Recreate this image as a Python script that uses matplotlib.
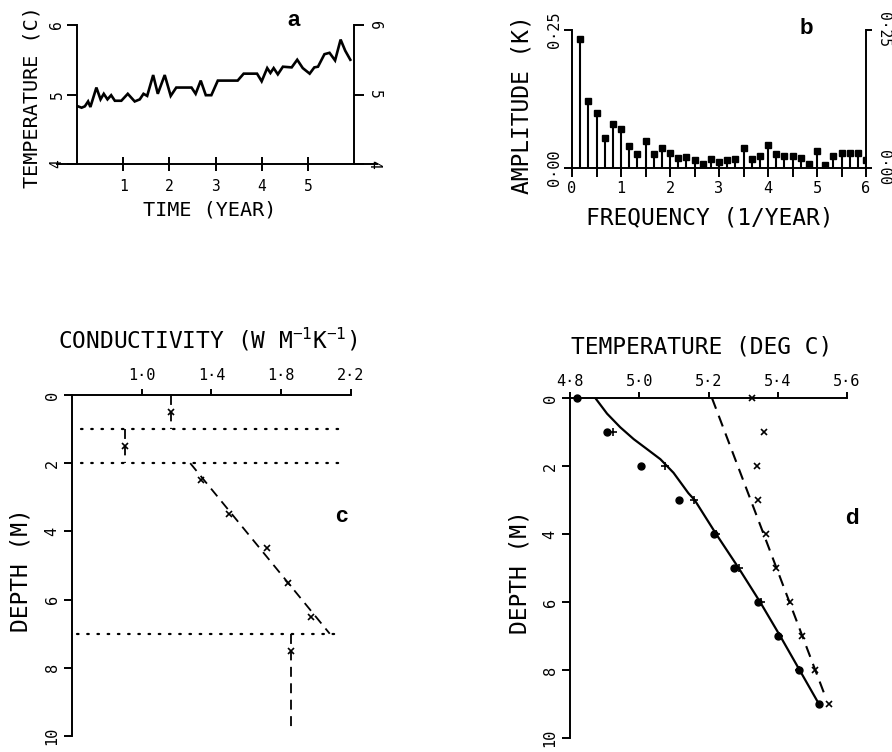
import matplotlib
matplotlib.use("Agg")
import matplotlib.pyplot as plt
from matplotlib.lines import Line2D

W, H = 892, 752
plt.rcParams['font.family'] = ['DejaVu Sans Mono']
plt.rcParams['mathtext.fontset'] = 'custom'
plt.rcParams['mathtext.rm'] = 'DejaVu Sans Mono'
plt.rcParams['mathtext.it'] = 'DejaVu Sans Mono'

# ---------------- data ----------------
# (a) air temperature record
time_years = [0.02, 0.10, 0.17, 0.24, 0.29, 0.42, 0.51, 0.58, 0.66, 0.74, 0.82,
              0.96, 1.10, 1.25, 1.36, 1.44, 1.52, 1.65, 1.75, 1.90, 2.03, 2.15,
              2.48, 2.57, 2.68, 2.79, 2.91, 3.05, 3.48, 3.61, 3.90, 4.00, 4.12,
              4.19, 4.26, 4.35, 4.46, 4.65, 4.77, 4.89, 5.04, 5.14, 5.22, 5.36,
              5.47, 5.59, 5.71, 5.81, 5.92]
air_temp = [4.83, 4.81, 4.83, 4.90, 4.82, 5.10, 4.93, 5.01, 4.93, 4.99, 4.91,
            4.91, 5.01, 4.90, 4.93, 5.01, 4.98, 5.28, 5.01, 5.28, 4.98, 5.10,
            5.10, 5.01, 5.20, 4.99, 4.99, 5.20, 5.20, 5.30, 5.30, 5.19, 5.38,
            5.31, 5.38, 5.29, 5.40, 5.39, 5.50, 5.38, 5.30, 5.39, 5.40, 5.58,
            5.60, 5.49, 5.79, 5.63, 5.50]
temp_ticks = [4, 5, 6]
year_ticks = [1, 2, 3, 4, 5]

# (b) amplitude spectrum, harmonics k/6 per year
harmonic = list(range(1, 37))
amplitude = [0.234, 0.122, 0.100, 0.054, 0.079, 0.070, 0.040, 0.025, 0.049,
             0.025, 0.037, 0.028, 0.019, 0.020, 0.014, 0.007, 0.016, 0.010,
             0.014, 0.016, 0.036, 0.016, 0.022, 0.042, 0.025, 0.021, 0.021,
             0.018, 0.007, 0.031, 0.005, 0.022, 0.028, 0.028, 0.027, 0.014]
freq_ticks = [0, 1, 2, 3, 4, 5, 6]
amp_ticks = [0.0, 0.25]

# (c) conductivity layers
layer_top = [0, 1, 2, 7]
layer_bottom = [1, 2, 7, 9.8]
cond_at_top = [1.167, 0.904, 1.278, 1.858]
cond_at_bottom = [1.167, 0.904, 2.078, 1.858]
sample_depth = [0.5, 1.5, 2.5, 3.5, 4.5, 5.5, 6.5, 7.5]
sample_cond = [1.167, 0.904, 1.338, 1.501, 1.721, 1.836, 1.971, 1.858]
boundary_depth = [1, 2, 7]
boundary_from = [0.65, 0.65, 0.63]
boundary_to = [2.15, 2.15, 2.13]
cond_ticks = [1.0, 1.4, 1.8, 2.2]
depth_ticks = [0, 2, 4, 6, 8, 10]

# (d) temperature profiles
obs_depth = [0, 1, 2, 3, 4, 5, 6, 7, 8, 9]
obs_temp = [4.820, 4.907, 5.005, 5.115, 5.217, 5.275, 5.344, 5.402, 5.460, 5.519]
calc_depth = [1, 2, 3, 4, 5, 6, 7, 8]
calc_temp = [4.924, 5.075, 5.159, 5.222, 5.287, 5.351, 5.404, 5.460]
model_depth = [0, 0.46, 0.86, 1.21, 1.5, 1.8, 2.2, 2.8, 3, 4, 5, 6, 7, 8, 9]
model_temp = [4.873, 4.907, 4.945, 4.984, 5.022, 5.061, 5.099, 5.142, 5.160,
              5.222, 5.287, 5.349, 5.407, 5.463, 5.519]
trend_depth = [0, 8.85]
trend_temp = [5.21, 5.54]
cross_depth = [0, 1, 2, 3, 4, 5, 6, 7, 8, 9]
cross_temp = [5.325, 5.361, 5.340, 5.344, 5.367, 5.396, 5.436, 5.470, 5.508, 5.549]
soil_temp_ticks = [4.8, 5.0, 5.2, 5.4, 5.6]

# ---------------- drawing ----------------
LW = 1.4
TICK_FS = 11
LABEL_FS = 16.5
DASH = (0, (5.5, 3.6))

fig = plt.figure(figsize=(W / 100, H / 100), dpi=100)


def px_axes(left, top, right, bottom):
    return fig.add_axes([left / W, 1 - bottom / H, (right - left) / W, (bottom - top) / H])


def fig_text(x, y, s, **kw):
    fig.text(x / W, 1 - y / H, s, ha='center', va='center', **kw)


def dotfmt(v, fmt):
    return (fmt % v).replace('.', '\u00b7')


def style_spines(ax, visible):
    for side, sp in ax.spines.items():
        sp.set_visible(side in visible)
        sp.set_linewidth(LW)


def rotate_y_labels(ax, right_size=None):
    for t in ax.yaxis.get_major_ticks():
        t.label1.set_rotation(90)
        t.label1.set_va('center')
        t.label2.set_rotation(270)
        t.label2.set_va('center')
        if right_size:
            t.label2.set_fontsize(right_size)


# ---- (a) ----
ax = px_axes(77, 25, 354, 164)
ax.plot(time_years, air_temp, color='black', lw=1.9, solid_joinstyle='miter')
ax.set_xlim(0, 6)
ax.set_ylim(4, 6)
style_spines(ax, ['left', 'right'])
ax.add_line(Line2D([-0.072, 1.083], [0, 0], transform=ax.transAxes,
                   color='black', lw=LW, clip_on=False))
ax.set_xticks(year_ticks)
ax.set_xticklabels([str(v) for v in year_ticks])
ax.tick_params(axis='x', direction='inout', length=10, width=LW, pad=6,
               labelsize=10.5)
ax.set_yticks(temp_ticks)
ax.set_yticklabels([str(v) for v in temp_ticks])
ax.tick_params(axis='y', direction='out', length=7, width=LW, pad=2,
               labelsize=10.5, left=True, right=True, labelleft=True, labelright=True)
rotate_y_labels(ax)
fig_text(32, 97, 'TEMPERATURE (C)', rotation=90, fontsize=14.5)
fig_text(210, 210, 'TIME (YEAR)', fontsize=14.5)
fig_text(294, 20, 'a', fontsize=16, fontweight='bold', family='Liberation Sans')

# ---- (b) ----
ax = px_axes(572, 30, 866, 168)
freqs = [k / 6 for k in harmonic]
ax.vlines(freqs, 0, amplitude, color='black', lw=1.5)
ax.plot(freqs, amplitude, ls='none', marker='s', ms=4.0, color='black')
ax.set_xlim(0, 6)
ax.set_ylim(0, 0.25)
style_spines(ax, ['left', 'right', 'bottom'])
ax.set_xticks(freq_ticks)
ax.set_xticklabels([str(v) for v in freq_ticks])
ax.set_xticks([v + 0.5 for v in freq_ticks[:-1]], minor=True)
ax.tick_params(axis='x', which='both', direction='out', length=6.5, width=LW,
               pad=3, labelsize=TICK_FS)
ax.set_yticks(amp_ticks)
ax.set_yticklabels([dotfmt(v, '%.2f') for v in amp_ticks])
ax.tick_params(axis='y', direction='out', length=6, width=LW, pad=1.5,
               labelsize=TICK_FS, left=True, right=True, labelleft=True, labelright=True)
rotate_y_labels(ax, right_size=10.5)
for t in ax.yaxis.get_major_ticks():
    t.tick2line.set_markersize(4)
fig_text(522, 105, 'AMPLITUDE (K)', rotation=90, fontsize=LABEL_FS)
fig_text(710, 218, 'FREQUENCY (1/YEAR)', fontsize=LABEL_FS)
fig_text(806, 28, 'b', fontsize=16, fontweight='bold', family='Liberation Sans')

# ---- (c) ----
ax = px_axes(72, 395, 351, 736)
for d, x0, x1 in zip(boundary_depth, boundary_from, boundary_to):
    ax.plot([x0, x1], [d, d], color='black', lw=1.6, ls=(0, (0.7, 3.9)),
            dash_capstyle='round')
for z0, z1, c0, c1 in zip(layer_top, layer_bottom, cond_at_top, cond_at_bottom):
    ax.plot([c0, c1], [z0, z1], color='black', lw=1.3, ls=DASH)
ax.plot(sample_cond, sample_depth, ls='none', marker='x', ms=5, mew=1.2, color='black')
ax.set_xlim(0.6, 2.2)
ax.set_ylim(10, 0)
style_spines(ax, ['left', 'top'])
ax.xaxis.tick_top()
ax.set_xticks(cond_ticks)
ax.set_xticklabels([dotfmt(v, '%.1f') for v in cond_ticks])
ax.tick_params(axis='x', direction='out', length=4.5, width=LW, pad=4, labelsize=TICK_FS)
ax.set_yticks(depth_ticks)
ax.set_yticklabels([str(v) for v in depth_ticks])
ax.tick_params(axis='y', direction='out', length=6, width=LW, pad=3, labelsize=TICK_FS)
rotate_y_labels(ax)
fig_text(208, 340, 'CONDUCTIVITY (W M$^{-1}$K$^{-1}$)', fontsize=LABEL_FS)
fig_text(21, 570, 'DEPTH (M)', rotation=90, fontsize=LABEL_FS)
fig_text(341, 517, 'c', fontsize=16, fontweight='bold', family='Liberation Sans')

# ---- (d) ----
ax = px_axes(570, 398, 847, 738)
ax.plot(model_temp, model_depth, color='black', lw=1.6)
ax.plot(trend_temp, trend_depth, color='black', lw=1.5, ls=DASH)
ax.plot(obs_temp, obs_depth, ls='none', marker='o', ms=5, color='black', clip_on=False)
ax.plot(calc_temp, calc_depth, ls='none', marker='+', ms=6, mew=1.2, color='black')
ax.plot(cross_temp, cross_depth, ls='none', marker='x', ms=5, mew=1.2, color='black',
        clip_on=False)
ax.set_xlim(4.8, 5.6)
ax.set_ylim(10, 0)
style_spines(ax, ['left', 'top'])
ax.xaxis.tick_top()
ax.set_xticks(soil_temp_ticks)
ax.set_xticklabels([dotfmt(v, '%.1f') for v in soil_temp_ticks])
ax.tick_params(axis='x', direction='out', length=4.5, width=LW, pad=2, labelsize=TICK_FS)
ax.set_yticks(depth_ticks)
ax.set_yticklabels([str(v) for v in depth_ticks])
ax.tick_params(axis='y', direction='out', length=6, width=LW, pad=3, labelsize=TICK_FS)
rotate_y_labels(ax)
fig_text(702, 347, 'TEMPERATURE (DEG C)', fontsize=LABEL_FS)
fig_text(520, 572, 'DEPTH (M)', rotation=90, fontsize=LABEL_FS)
fig_text(852, 519, 'd', fontsize=16, fontweight='bold', family='Liberation Sans')

fig.savefig('out.png', dpi=100)
